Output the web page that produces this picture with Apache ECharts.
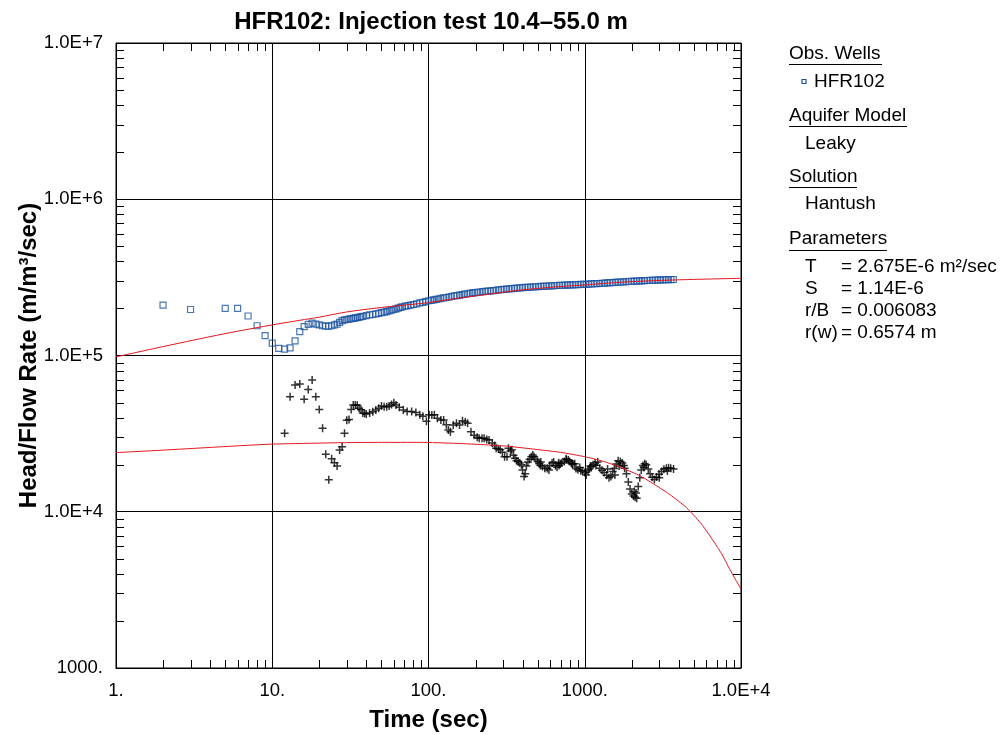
<!DOCTYPE html>
<html>
<head>
<meta charset="utf-8">
<script src="https://cdn.jsdelivr.net/npm/echarts@6/dist/echarts.min.js"></script>
<style>
html,body{margin:0;padding:0;background:#fff;}
#chart{width:1000px;height:735px;}
</style>
</head>
<body>
<div id="chart"></div>
<script>
// ---- tick labels ----
const xTickValues = [1, 10, 100, 1000, 10000];
const xTickLabels = ['1.', '10.', '100.', '1000.', '1.0E+4'];
const yTickValues = [1000, 1e4, 1e5, 1e6, 1e7];
const yTickLabels = ['1000.', '1.0E+4', '1.0E+5', '1.0E+6', '1.0E+7'];

// ---- observed head/flow rate (blue squares) ----
const obsTime = [2,3,5,6,7,8,9,10,11,12,13,14,15,16,17,18,19,20,21,22,23,24,25,26,27,28,29,
  30,31,32,33,34,35,36,37,38,40,42,44,46,48,50,52,54,56,58,60,62,64,66,68,71,74,77,80,84,88,92,96,
  100,104,108,112,116,120,125,130,135,140,146,152,158,164,170,177,184,191,198,206,214,222,231,240,
  250,260,270,281,292,304,316,328,341,355,369,384,399,415,432,449,467,485,505,525,546,568,590,614,
  638,664,690,718,747,776,807,840,873,908,944,982,1020,1060,1100,1150,1195,1240,1290,1340,1395,
  1450,1510,1570,1630,1700,1765,1835,1910,1985,2065,2150,2235,2320,2415,2510,2610,2715,2820,2935,
  3050,3170,3300,3430,3560,3690];
const obsHead = [210e3,197e3,200e3,200e3,179e3,155e3,134e3,120e3,111e3,110e3,112e3,124e3,142e3,153e3,158e3,161e3,159e3,157e3,155e3,154e3,154e3,155e3,157e3,159e3,163e3,167e3,169e3,
  170e3,171e3,172e3,173e3,174e3,175e3,176e3,177e3,178e3,180e3,182e3,183e3,184.5e3,186e3,188e3,189.5e3,191e3,193e3,195e3,197e3,199e3,201e3,203e3,205e3,207e3,208.5e3,210e3,212e3,214e3,217e3,219e3,221.5e3,
  224e3,225.5e3,227e3,228.5e3,230e3,232e3,233.5e3,235e3,236.5e3,238.5e3,240.5e3,242e3,243.5e3,245e3,247e3,248.5e3,250e3,251.5e3,252.5e3,254e3,255e3,256e3,257e3,258.5e3,
  259.5e3,260.5e3,261.5e3,263e3,264e3,265e3,266e3,267e3,268e3,269e3,270e3,271e3,271.5e3,272.5e3,273e3,274e3,274.5e3,275.5e3,276e3,277e3,277.5e3,278e3,278.5e3,279e3,
  279.5e3,280.5e3,281e3,281.5e3,282e3,282.5e3,283e3,283.5e3,284e3,284.5e3,285e3,285e3,285.5e3,286.5e3,287e3,288e3,288.5e3,289e3,290e3,290.5e3,291.5e3,
  292.5e3,293e3,294e3,294.5e3,295.5e3,296e3,296.5e3,297.5e3,298e3,299e3,299.5e3,300e3,300.5e3,301e3,302e3,302.5e3,303e3,303.5e3,304e3,
  304.5e3,305e3,305.5e3,306e3,306e3,306.5e3];

// ---- derivative (black crosses) ----
const derTime = [12,13,14,15,16,17,18,19,20,21,22,23,24,25,26,27,28,29,30,31,32,33,34,35,36,37,38,39,40,42,44,46,48,50,52,54,56,58,60,62,65,69,73,78,83,88,92,97,
  101,105,109,114,120,125,130,134,138,144,151,158,165,172,178,187,196,205,211,220,227,236,244,256,265,271,280,288,297,307,318,325,335,341,350,358,366,375,384,393,400,409,416,423,433,444,455,465,474,487,
  500,512,523,536,555,576,597,618,633,650,665,685,696,711,740,763,785,800,819,840,863,879,905,943,970,1000,1022,1050,1086,1100,1130,1165,1210,1250,1290,1330,1380,1430,1470,1510,1545,1590,1635,1690,1740,1780,
  1800,1850,1900,1950,2000,2050,2100,2150,2200,2250,2300,2360,2420,2475,2550,2620,2700,2790,2880,2990,3100,3210,3330,3440,3550,3700,
  520,590,680,760,830,930,1070,1180,1400,1560,1660,2080,2130,2390,3000,3380];
const derValue = [31.8e3,54.5e3,64.7e3,65.7e3,52.4e3,60.7e3,69.7e3,54.5e3,45.2e3,34.2e3,23.3e3,16e3,21.8e3,20.6e3,19.6e3,24.8e3,26.1e3,31.8e3,38.5e3,39e3,45.2e3,48.2e3,48.2e3,48e3,46e3,45e3,42.8e3,42.5e3,42.2e3,42.8e3,43.6e3,44.8e3,46e3,47.5e3,47e3,47e3,47.5e3,48.5e3,49.9e3,48.2e3,46.6e3,44.8e3,43.8e3,43.8e3,43.2e3,41.8e3,40.8e3,38e3,
  41.8e3,41.6e3,41.8e3,39.6e3,38.7e3,38.7e3,36e3,33.4e3,32.5e3,35.9e3,36.8e3,35.9e3,38.3e3,37.5e3,36.8e3,32.5e3,30.9e3,30e3,29.5e3,29.5e3,29.5e3,29e3,28.8e3,27.5e3,26.5e3,25.5e3,25.2e3,24.9e3,24e3,22.5e3,22.5e3,25.5e3,24.5e3,24.9e3,23e3,22e3,21.2e3,21e3,20.5e3,20e3,18.5e3,16.8e3,17.5e3,19.6e3,20.8e3,21.7e3,22.5e3,23.1e3,22.5e3,21.6e3,
  21e3,20.3e3,20.8e3,19.5e3,19e3,18.9e3,19.8e3,20.5e3,20.8e3,19.7e3,19.3e3,19.8e3,20.3e3,20.5e3,21e3,21.5e3,21.4e3,21e3,20.5e3,20.3e3,20.3e3,18.9e3,18.6e3,18.3e3,18.2e3,17.8e3,17.2e3,18.3e3,19.6e3,19.4e3,20e3,20.5e3,20.8e3,19e3,18.4e3,17.8e3,17.1e3,16.5e3,16.8e3,18.1e3,18.9e3,20.2e3,21.2e3,21e3,20.5e3,19.8e3,
  19e3,17.5e3,15.5e3,14e3,13e3,12.6e3,12.4e3,12.2e3,14.5e3,16.5e3,18.5e3,19.8e3,20.3e3,20e3,18.8e3,17.5e3,16.6e3,16.1e3,16.7e3,17.4e3,18.1e3,18.7e3,19e3,19.1e3,19e3,18.8e3,
  19.8e3,18.5e3,20.6e3,21.8e3,20.2e3,19.2e3,18.8e3,19.8e3,18.8e3,17.2e3,19.6e3,13.5e3,13.2e3,19.2e3,16.5e3,18.2e3];

// ---- Hantush type curves (red) ----
const fitTime = [1,2,4,6,10,15,20,30,50,70,100,144,236,385,630,1000,1681,2748,4487,10000];
const fitHead = [98e3,114e3,132e3,143e3,157e3,168e3,176e3,190e3,203e3,210e3,218e3,230e3,246e3,262e3,274e3,283e3,294e3,301e3,306e3,312e3];
const fitDerTime = [1,2,4,6,10,20,30,50,88,150,236,315,500,700,1000,1300,1681,2200,2748,3500,4487,5500,6333,7500,8505,9200,10000];
const fitDerValue = [23.9e3,24.8e3,25.8e3,26.4e3,27.1e3,27.5e3,27.7e3,27.8e3,27.8e3,27.4e3,26.8e3,26.3e3,25e3,24e3,22.5e3,21.1e3,19.3e3,17.2e3,15.1e3,12.9e3,10.6e3,8.5e3,7.0e3,5.4e3,4.25e3,3.7e3,3.2e3];

// minor ticks (2..9 per decade)
const xMinor = [], yMinor = [];
[1,10,100,1000].forEach(d => { for (let k = 2; k <= 9; k++) xMinor.push([k*d, 1000]); });
[1000,1e4,1e5,1e6].forEach(d => { for (let k = 2; k <= 9; k++) yMinor.push([1, k*d]); });

const FONT = '"Liberation Sans", Arial, Helvetica, sans-serif';

function lookup(vals, labels, v) {
  for (let i = 0; i < vals.length; i++) {
    if (Math.abs(Math.log10(vals[i]) - Math.log10(v)) < 1e-6) return labels[i];
  }
  return '';
}

const chart = echarts.init(document.getElementById('chart'), null, {renderer: 'canvas'});

const crossPath = 'path://M3.25,0h1.5v3.25h3.25v1.5h-3.25v3.25h-1.5v-3.25h-3.25v-1.5h3.25z';

function tickRender(isX) {
  return function (params, api) {
    const cs = params.coordSys;
    const p = api.coord([api.value(0), api.value(1)]);
    const L = 8;
    const st = {stroke: '#000', lineWidth: 1};
    if (isX) {
      const x = Math.round(p[0]) + 0.5;
      return {type: 'group', children: [
        {type: 'line', shape: {x1: x, y1: cs.y + cs.height, x2: x, y2: cs.y + cs.height - L}, style: st},
        {type: 'line', shape: {x1: x, y1: cs.y, x2: x, y2: cs.y + L}, style: st}
      ]};
    } else {
      const y = Math.round(p[1]) + 0.5;
      return {type: 'group', children: [
        {type: 'line', shape: {x1: cs.x, y1: y, x2: cs.x + L, y2: y}, style: st},
        {type: 'line', shape: {x1: cs.x + cs.width, y1: y, x2: cs.x + cs.width - L, y2: y}, style: st}
      ]};
    }
  };
}

const BLUE = '#1d54a0';
const legendX = 789, indentX = 805, eqX = 841;
const txt = (x, y, s) => ({type: 'text', x: x, y: y, style: {text: s, fontFamily: FONT, fontSize: 19, fill: '#000', verticalAlign: 'middle'}});
const uline = (x1, x2, y) => ({type: 'line', shape: {x1: x1, y1: y, x2: x2, y2: y}, style: {stroke: '#000', lineWidth: 1}});

const option = {
  animation: false,
  backgroundColor: '#fff',
  title: {
    text: 'HFR102: Injection test 10.4–55.0 m',
    left: 426, top: 5, textAlign: 'center',
    textStyle: {fontFamily: FONT, fontSize: 24, fontWeight: 'bold', color: '#000'}
  },
  grid: {left: 116, right: 259, top: 43, bottom: 67, containLabel: false, outerBoundsMode: 'none',
    show: true, borderColor: '#000', borderWidth: 1, backgroundColor: 'transparent'},
  xAxis: {
    type: 'log', logBase: 10, min: 1, max: 10000,
    name: 'Time (sec)', nameLocation: 'middle', nameGap: 40,
    nameTextStyle: {fontFamily: FONT, fontSize: 24, fontWeight: 'bold', color: '#000'},
    axisLine: {show: true, lineStyle: {color: '#000', width: 1}},
    axisTick: {show: false},
    splitLine: {show: true, lineStyle: {color: '#000', width: 1}},
    axisLabel: {
      color: '#000', fontFamily: FONT, fontSize: 18.5, margin: 13, showMinLabel: true, showMaxLabel: true,
      formatter: v => lookup(xTickValues, xTickLabels, v)
    }
  },
  yAxis: {
    type: 'log', logBase: 10, min: 1000, max: 1e7,
    name: 'Head/Flow Rate (m/m³/sec)', nameLocation: 'middle', nameGap: 75, nameRotate: 90,
    nameMoveOverlap: false,
    nameTextStyle: {fontFamily: FONT, fontSize: 24, fontWeight: 'bold', color: '#000'},
    axisLine: {show: true, lineStyle: {color: '#000', width: 1}},
    axisTick: {show: false},
    splitLine: {show: true, lineStyle: {color: '#000', width: 1}},
    axisLabel: {
      color: '#000', fontFamily: FONT, fontSize: 18.5, margin: 13, showMinLabel: true, showMaxLabel: true,
      formatter: v => lookup(yTickValues, yTickLabels, v)
    }
  },
  series: [
    {type: 'custom', renderItem: tickRender(true), data: xMinor, silent: true, z: 5, clip: false},
    {type: 'custom', renderItem: tickRender(false), data: yMinor, silent: true, z: 5, clip: false},
    {
      type: 'scatter', name: 'HFR102', symbol: 'rect', symbolSize: 6,
      data: obsTime.map((t, i) => [t, obsHead[i]]),
      itemStyle: {color: 'rgba(255,255,255,0)', borderColor: BLUE, borderWidth: 1.2},
      z: 3
    },
    {
      type: 'scatter', name: 'derivative', symbol: crossPath, symbolSize: 8,
      data: derTime.map((t, i) => [t, derValue[i]]),
      itemStyle: {color: '#000'},
      z: 3
    },
    {
      type: 'line', smooth: 0.3, showSymbol: false,
      data: fitTime.map((t, i) => [t, fitHead[i]]),
      lineStyle: {color: '#e3161e', width: 1}, z: 4
    },
    {
      type: 'line', smooth: 0.2, showSymbol: false,
      data: fitDerTime.map((t, i) => [t, fitDerValue[i]]),
      lineStyle: {color: '#e3161e', width: 1}, z: 4
    }
  ],
  graphic: [
    txt(legendX, 54, 'Obs. Wells'), uline(legendX, 882, 64.5),
    {type: 'rect', shape: {x: 802, y: 79.5, width: 4, height: 4}, style: {fill: 'none', stroke: BLUE, lineWidth: 1.2}},
    txt(814, 82, 'HFR102'),
    txt(legendX, 116, 'Aquifer Model'), uline(legendX, 907, 126.5),
    txt(indentX, 144, 'Leaky'),
    txt(legendX, 177, 'Solution'), uline(legendX, 857, 187.5),
    txt(indentX, 204, 'Hantush'),
    txt(legendX, 239, 'Parameters'), uline(legendX, 887, 250.5),
    txt(indentX, 267, 'T'), txt(eqX, 267, '= 2.675E-6 m²/sec'),
    txt(indentX, 289, 'S'), txt(eqX, 289, '= 1.14E-6'),
    txt(indentX, 311, 'r/B'), txt(eqX, 311, '= 0.006083'),
    txt(indentX, 333, 'r(w)'), txt(eqX, 333, '= 0.6574 m')
  ]
};
chart.setOption(option);
</script>
</body>
</html>
